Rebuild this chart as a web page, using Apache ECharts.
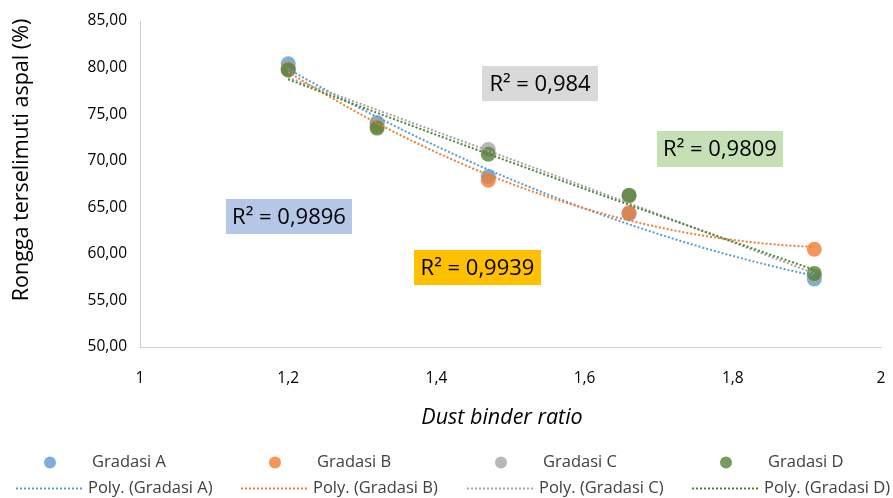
<!DOCTYPE html>
<html><head><meta charset="utf-8">
<script src="https://cdn.jsdelivr.net/npm/echarts@6/dist/echarts.min.js"></script>
<style>html,body{margin:0;padding:0;background:#fff}#c{width:893px;height:498px}</style>
</head><body><div id="c"></div>
<script>
const xValues = [1.2, 1.32, 1.47, 1.66, 1.91];
const gradA = [80.4, 74.1, 68.3, 64.3, 57.3];
const gradB = [79.9, 73.7, 67.9, 64.4, 60.5];
const gradC = [79.8, 74.0, 71.2, 66.2, 57.6];
const gradD = [79.75, 73.5, 70.7, 66.3, 57.9];
const seriesNames = ['Gradasi A', 'Gradasi B', 'Gradasi C', 'Gradasi D'];
const trendNames = ['Poly. (Gradasi A)', 'Poly. (Gradasi B)', 'Poly. (Gradasi C)', 'Poly. (Gradasi D)'];
const r2Labels = ['R² = 0,9896', 'R² = 0,9939', 'R² = 0,984', 'R² = 0,9809'];
const xTicks = ['1', '1,2', '1,4', '1,6', '1,8', '2'];
const xTitle = 'Dust binder ratio';
const yTitle = 'Rongga terselimuti aspal (%)';
const colors = ['#5b9bd5', '#ed7d31', '#a5a5a5', '#548235'];
const allY = [gradA, gradB, gradC, gradD];

// quadratic least squares (Excel "Poly." order 2 trendline)
function polyFit2(xs, ys) {
  let S = [0,0,0,0,0], T = [0,0,0];
  for (let i = 0; i < xs.length; i++) {
    let p = 1;
    for (let k = 0; k < 5; k++) { S[k] += p; if (k < 3) T[k] += p * ys[i]; p *= xs[i]; }
  }
  const M = [[S[0],S[1],S[2],T[0]],[S[1],S[2],S[3],T[1]],[S[2],S[3],S[4],T[2]]];
  for (let c = 0; c < 3; c++) {
    for (let r = c + 1; r < 3; r++) {
      const f = M[r][c] / M[c][c];
      for (let k = c; k < 4; k++) M[r][k] -= f * M[c][k];
    }
  }
  const a = [0,0,0];
  for (let r = 2; r >= 0; r--) {
    let s = M[r][3];
    for (let k = r + 1; k < 3; k++) s -= M[r][k] * a[k];
    a[r] = s / M[r][r];
  }
  return a;
}
function trendData(ys) {
  const a = polyFit2(xValues, ys);
  const out = [];
  const x0 = xValues[0], x1 = xValues[xValues.length - 1];
  const n = 60;
  for (let i = 0; i <= n; i++) {
    const x = x0 + (x1 - x0) * i / n;
    out.push([x, a[0] + a[1] * x + a[2] * x * x]);
  }
  return out;
}

const series = [];
seriesNames.forEach((nm, i) => {
  series.push({
    name: nm, type: 'scatter', symbolSize: 15, z: 3 + i,
    itemStyle: { color: colors[i] },
    data: xValues.map((x, j) => [x, allY[i][j]])
  });
});
trendNames.forEach((nm, i) => {
  series.push({
    name: nm, type: 'line', symbol: 'none', smooth: false, z: 10,
    lineStyle: { color: colors[i], width: 2, type: [2, 2] },
    itemStyle: { color: colors[i] },
    data: trendData(allY[i])
  });
});

// dotted-line legend icon
let dots = '';
for (let k = 0; k < 17; k++) dots += 'M' + (k * 4) + ',0h2v2h-2z';
const dotIcon = 'path://' + dots;

const legendFont = { fontFamily: 'Open Sans', fontSize: 16.5, color: '#404040' };
const legends = [];
const colOff = [0, 225, 451, 676];
seriesNames.forEach((nm, i) => {
  legends.push({ data: [nm], left: 44 + colOff[i], top: 454, padding: 0, icon: 'circle', itemWidth: 12, itemHeight: 12, itemGap: 0,
    textStyle: Object.assign({ padding: [0, 0, 0, 31] }, legendFont) });
});
trendNames.forEach((nm, i) => {
  legends.push({ data: [nm], left: 16 + colOff[i], top: 480, padding: 0, icon: dotIcon, itemWidth: 66, itemHeight: 2, itemGap: 0,
    textStyle: Object.assign({ padding: [0, 0, 0, 1] }, legendFont) });
});

const boxes = [
  { x: 226, y: 199, w: 126, h: 35, fill: '#b4c7e7', t: 0 },
  { x: 414, y: 250, w: 127, h: 35, fill: '#ffc000', t: 1 },
  { x: 482, y: 66, w: 116, h: 35, fill: '#d9d9d9', t: 2 },
  { x: 657, y: 131, w: 126, h: 36, fill: '#c5e0b4', t: 3 }
];
const graphic = [];
boxes.forEach(b => {
  graphic.push({ type: 'rect', left: b.x, top: b.y, shape: { width: b.w, height: b.h }, style: { fill: b.fill }, z: 20 });
  graphic.push({ type: 'text', x: b.x + b.w / 2, y: b.y + b.h / 2 + 1, style: { text: r2Labels[b.t], fill: '#000', font: '22px "Open Sans"', textAlign: 'center', textVerticalAlign: 'middle' }, z: 21 });
});
graphic.push({ type: 'text', x: 502, y: 418, style: { text: xTitle, fill: '#000', font: 'italic 21.5px "Open Sans"', textAlign: 'center', textVerticalAlign: 'middle' } });
graphic.push({ type: 'text', x: 22, y: 160, rotation: Math.PI / 2, style: { text: yTitle, fill: '#000', font: '21.5px "Open Sans"', textAlign: 'center', textVerticalAlign: 'middle' } });

const chart = echarts.init(document.getElementById('c'));
chart.setOption({
  animation: false,
  backgroundColor: '#fff',
  grid: { left: 140, right: 12, top: 21, bottom: 151 },
  legend: legends,
  graphic: graphic,
  xAxis: {
    type: 'value', min: 1, max: 2, interval: 0.2,
    axisLine: { show: true, lineStyle: { color: '#d0d0d0', width: 1 } },
    axisTick: { show: false },
    splitLine: { show: false },
    axisLabel: { fontFamily: 'Open Sans', fontSize: 15.5, color: '#000', margin: 24,
      formatter: v => xTicks[Math.round((v - 1) / 0.2)] }
  },
  yAxis: {
    type: 'value', min: 50, max: 85, interval: 5,
    axisLine: { show: true, lineStyle: { color: '#d0d0d0', width: 1 } },
    axisTick: { show: false },
    splitLine: { show: false },
    axisLabel: { fontFamily: 'Open Sans', fontSize: 15.5, color: '#000', margin: 13,
      formatter: v => v.toFixed(2).replace('.', ',') }
  },
  series: series
});
</script></body></html>
